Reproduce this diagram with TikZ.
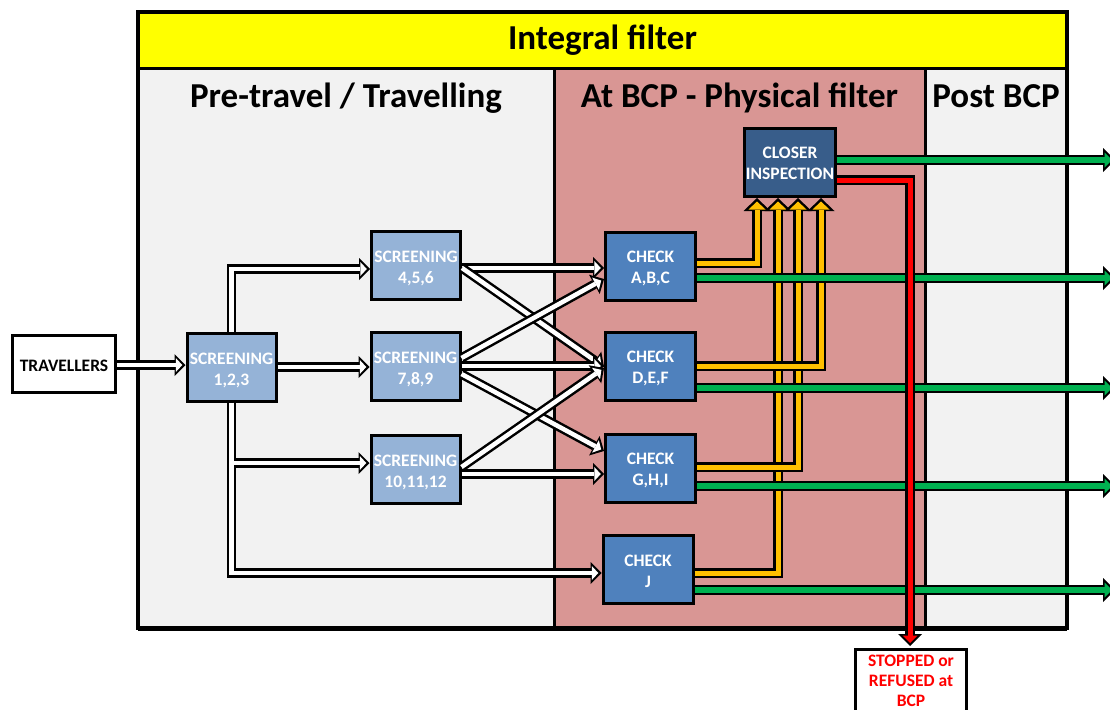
\documentclass[tikz,border=0pt]{standalone}
\usepackage{fontspec}
\setmainfont{Carlito}
\usetikzlibrary{arrows.meta}

\definecolor{panelgrey}{HTML}{F2F2F2}
\definecolor{bcprose}{HTML}{D99694}
\definecolor{screenblue}{HTML}{95B3D7}
\definecolor{checkblue}{HTML}{4F81BD}
\definecolor{closerblue}{HTML}{385D8A}
\definecolor{flowgreen}{HTML}{00B050}
\definecolor{flowamber}{HTML}{FFC000}
\definecolor{titleyellow}{HTML}{FFFF00}
\definecolor{stopred}{HTML}{FF0000}

\tikzset{
  boxbase/.style={draw=black, line width=3pt, inner sep=0pt},
  travbox/.style={boxbase, fill=white, minimum width=103pt, minimum height=57pt},
  screenbox/.style={boxbase, fill=screenblue, minimum width=89pt, minimum height=68pt},
  chkbox/.style={boxbase, fill=checkblue, minimum width=90pt, minimum height=68pt},
  closerbox/.style={boxbase, fill=closerblue, minimum width=91pt, minimum height=68pt},
  stopbox/.style={boxbase, fill=white, minimum width=111pt, minimum height=63pt},
  % box captions, set on top of their boxes
  caption/.style={align=center, inner sep=0pt, text=#1,
    font=\bfseries\fontsize{17.5}{21}\selectfont},
  caption/.default=white,
  headline/.style={font=\bfseries\fontsize{35}{40}\selectfont, anchor=base, text=black, inner sep=0pt},
  % outlined flow arrows: a black outer stroke and a coloured inner stroke
  wout/.style={line width=9.5pt, color=black, line join=miter,
    -{Triangle[width=22pt,length=11pt,line width=0pt]}},
  win/.style={line width=4.5pt, color=white, line join=miter, shorten >=3.2pt,
    -{Triangle[width=14pt,length=6.5pt,line width=0pt]}},
  yout/.style={line width=9.5pt, color=black, line join=miter,
    -{Triangle[width=27pt,length=13pt,line width=0pt]}},
  yin/.style={line width=5pt, color=flowamber, line join=miter, shorten >=3.5pt,
    -{Triangle[width=17pt,length=8pt,line width=0pt]}},
  gout/.style={line width=10pt, color=black, line join=miter,
    -{Triangle[width=24pt,length=12pt,line width=0pt]}},
  gin/.style={line width=5.5pt, color=flowgreen, line join=miter, shorten >=3pt,
    -{Triangle[width=15pt,length=7.5pt,line width=0pt]}},
  rout/.style={line width=9.5pt, color=black, line join=miter, shorten >=2pt,
    -{Triangle[width=24pt,length=12pt,line width=0pt]}},
  rin/.style={line width=5pt, color=stopred, line join=miter, shorten >=5pt,
    -{Triangle[width=15pt,length=7.5pt,line width=0pt]}},
}

\newcommand\whiteflow[1]{\draw[wout] #1; \draw[win] #1;}
\newcommand\amberflow[1]{\draw[yout] #1; \draw[yin] #1;}
\newcommand\greenflow[1]{\draw[gout] #1; \draw[gin] #1;}

\begin{document}
\begin{tikzpicture}[x=1pt,y=-1pt]
\useasboundingbox (0,0) rectangle (1110,709);

% column panels and title band
\fill[panelgrey] (138,68) rectangle (554,628);
\fill[bcprose] (554,68) rectangle (925,628);
\fill[panelgrey] (925,68) rectangle (1067,628);
\fill[titleyellow] (138,12) rectangle (1067,68);
\draw[line width=3pt] (138,68) -- (1067,68) (554,68) -- (554,628) (925,68) -- (925,628);
\draw[line width=3.5pt] (138,12) rectangle (1067,628);
\draw[line width=5pt] (138,628) -- (1067,628);

\node[headline] (title) at (602.5,50) {Integral filter};
\node[headline] (pre) at (346,107) {Pre-travel / Travelling};
\node[headline] (atbcp) at (739.5,107) {At BCP - Physical filter};
\node[headline] (post) at (996,107) {Post BCP};

% boxes
\node[travbox] (trav) at (64,364) {};
\node[screenbox] (s123) at (231.5,367) {};
\node[screenbox] (s456) at (416,265.5) {};
\node[screenbox] (s789) at (415.5,366) {};
\node[screenbox] (s101112) at (415.5,469.5) {};
\node[chkbox] (cABC) at (650.5,266) {};
\node[chkbox] (cDEF) at (650.5,366.5) {};
\node[chkbox] (cGHI) at (650.5,468.5) {};
\node[chkbox] (cJ) at (648,569.5) {};
\node[closerbox] (closer) at (790,162.5) {};
\node[stopbox] (stop) at (911,681) {};

% captions
\node[caption=black] (travT) at ([yshift=-2pt]trav.center) {TRAVELLERS};
\node[caption] (s123T) at ([yshift=-3pt]s123.center) {SCREENING\\1,2,3};
\node[caption] (s456T) at ([yshift=-3pt]s456.center) {SCREENING\\4,5,6};
\node[caption] (s789T) at ([yshift=-3pt]s789.center) {SCREENING\\7,8,9};
\node[caption] (s101112T) at ([yshift=-3pt]s101112.center) {SCREENING\\10,11,12};
\node[caption] (cABCT) at ([yshift=-2pt]cABC.center) {CHECK\\A,B,C};
\node[caption] (cDEFT) at ([yshift=-2pt]cDEF.center) {CHECK\\D,E,F};
\node[caption] (cGHIT) at ([yshift=-2pt]cGHI.center) {CHECK\\G,H,I};
\node[caption] (cJT) at ([yshift=-2pt]cJ.center) {CHECK\\J};
\node[caption] (closerT) at ([yshift=-1pt]closer.center) {CLOSER\\INSPECTION};
\node[caption=stopred, font=\bfseries\fontsize{17.5}{20}\selectfont] (stopT) at (stop.center) {STOPPED or\\REFUSED at\\BCP};

% exits beyond the right edge
\coordinate (g0) at (1115,160);
\coordinate (g1) at (1115,278);
\coordinate (g2) at (1115,388);
\coordinate (g3) at (1115,486);
\coordinate (g4) at (1115,590);

% travellers into first screening
\whiteflow{(trav.east |- 0,365) -- (s123.west |- 0,365)}
\whiteflow{(s123.north) |- (s456.west |- 0,269)}
\whiteflow{(s123.east |- 0,367) -- (s789.west |- 0,367)}
% lower branch: to screening 10,11,12 and straight on to check J
\draw[wout] (s123.south) |- (cJ.west |- 0,573);
\draw[wout] (s123.south |- 0,463) -- (s101112.west |- 0,463);
\draw[win] (s123.south) |- (cJ.west |- 0,573);
\draw[win] (s123.south |- 0,463) -- (s101112.west |- 0,463);

% screenings into checks
\whiteflow{(s456.east |- 0,268) -- (cABC.west |- 0,268)}
\whiteflow{(s456.east |- 0,268) -- (cDEF.west |- 0,367)}
\whiteflow{(s789.east |- 0,358) -- (cABC.west |- 0,279)}
\whiteflow{(s789.east |- 0,366) -- (cDEF.west |- 0,366)}
\whiteflow{(s789.east |- 0,374) -- (cGHI.west |- 0,451)}
\whiteflow{(s101112.east |- 0,467) -- (cDEF.west |- 0,368)}
\whiteflow{(s101112.east |- 0,474) -- (cGHI.west |- 0,474)}

% checks up to closer inspection
\amberflow{(cJ.east |- 0,573) -| (778,0 |- closer.south)}
\amberflow{(cGHI.east |- 0,467) -| (798,0 |- closer.south)}
\amberflow{(cDEF.east |- 0,366) -| (821,0 |- closer.south)}
\amberflow{(cABC.east |- 0,263) -| (757,0 |- closer.south)}

% cleared travellers leave
\greenflow{(closer.east |- 0,160) -- (g0)}
\greenflow{(cABC.east |- 0,278) -- (g1)}
\greenflow{(cDEF.east |- 0,388) -- (g2)}
\greenflow{(cGHI.east |- 0,486) -- (g3)}
\greenflow{(cJ.east |- 0,590) -- (g4)}

% refused at the border
\draw[rout] (closer.east |- 0,180) -| (stop.north -| 910,0);
\draw[rin] (closer.east |- 0,180) -| (stop.north -| 910,0);
\end{tikzpicture}
\end{document}
